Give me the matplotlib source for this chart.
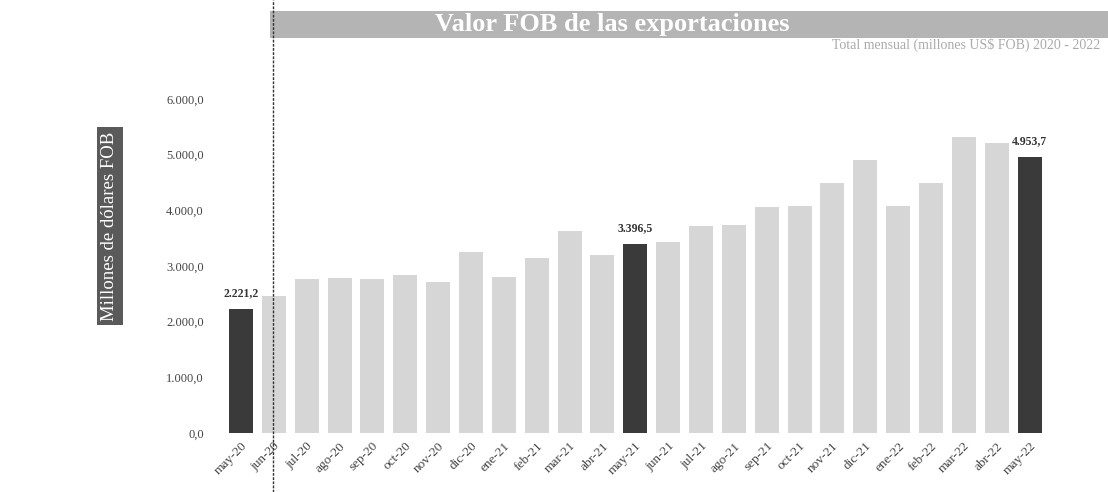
import matplotlib
matplotlib.use("Agg")
import matplotlib.pyplot as plt
from matplotlib.lines import Line2D

months = ["may-20", "jun-20", "jul-20", "ago-20", "sep-20", "oct-20", "nov-20", "dic-20",
          "ene-21", "feb-21", "mar-21", "abr-21", "may-21", "jun-21", "jul-21", "ago-21",
          "sep-21", "oct-21", "nov-21", "dic-21", "ene-22", "feb-22", "mar-22", "abr-22", "may-22"]
values = [2221.2, 2460, 2765, 2780, 2765, 2840, 2710, 3250,
          2800, 3140, 3630, 3200, 3396.5, 3430, 3716, 3730,
          4060, 4075, 4490, 4900, 4075, 4490, 5315, 5205, 4953.7]
highlight = ["may-20", "may-21", "may-22"]
yticks = [0, 1000, 2000, 3000, 4000, 5000, 6000]

def fmt_es(v):
    s = f"{v:,.1f}"
    return s.replace(",", "X").replace(".", ",").replace("X", ".")

W, H = 1108, 492
fig = plt.figure(figsize=(W / 100, H / 100), dpi=100)
fig.patch.set_facecolor("white")

left = 224.5 / W
right = 1046.0 / W
bottom = (H - 433) / H
top = (H - 99) / H
ax = fig.add_axes([left, bottom, right - left, top - bottom])

x = list(range(len(months)))
colors = ["#3a3a3a" if m in highlight else "#d6d6d6" for m in months]
bars = ax.bar(x, values, width=0.73, color=colors, edgecolor="none")

ax.set_xlim(-0.5, len(months) - 0.5)
ax.set_ylim(0, 6000)
ax.set_yticks(yticks)
ax.set_yticklabels([fmt_es(v) for v in yticks], fontsize=9, family="Liberation Serif", color="#444444")
ax.set_xticks(x)
ax.set_xticklabels(months, rotation=45, ha="right", rotation_mode="anchor",
                   fontsize=9.5, family="Liberation Serif", color="#444444")
ax.tick_params(axis="y", length=0, pad=15)
ax.tick_params(axis="x", length=0, pad=5)
for sp in ax.spines.values():
    sp.set_visible(False)

for xi, m, v in zip(x, months, values):
    if m in highlight:
        ax.annotate(fmt_es(v), (xi, v), xytext=(0, 7), textcoords="offset points",
                    ha="center", va="bottom", fontsize=8.5, fontweight="bold",
                    family="Liberation Serif", color="#333333")

# title band
fig.patches.append(plt.Rectangle((270 / W, 1 - 38 / H), (W - 270) / W, 27 / H,
                                 transform=fig.transFigure, facecolor="#b4b4b4",
                                 edgecolor="none", zorder=0))
fig.text(612 / W, 1 - 24.5 / H, "Valor FOB de las exportaciones", ha="center", va="center",
         fontsize=19, fontweight="bold", color="white", family="Liberation Serif")
fig.text(1100 / W, 1 - 45 / H, "Total mensual (millones US$ FOB) 2020 - 2022",
         ha="right", va="center", fontsize=10, color="#aaaaaa", family="Liberation Serif")

# y label box
fig.text(110 / W, 1 - 226 / H, "Millones de dólares FOB", rotation=90, ha="center", va="center",
         fontsize=13.5, color="white", family="Liberation Serif",
         bbox=dict(boxstyle="square,pad=0.25", facecolor="#5a5a5a", edgecolor="none"))

# scan fold line
fig.add_artist(Line2D([273 / W, 273 / W], [0, 1], transform=fig.transFigure,
                      color="#333333", lw=1, linestyle=(0, (2, 1))))

fig.savefig("out.png", dpi=100)
